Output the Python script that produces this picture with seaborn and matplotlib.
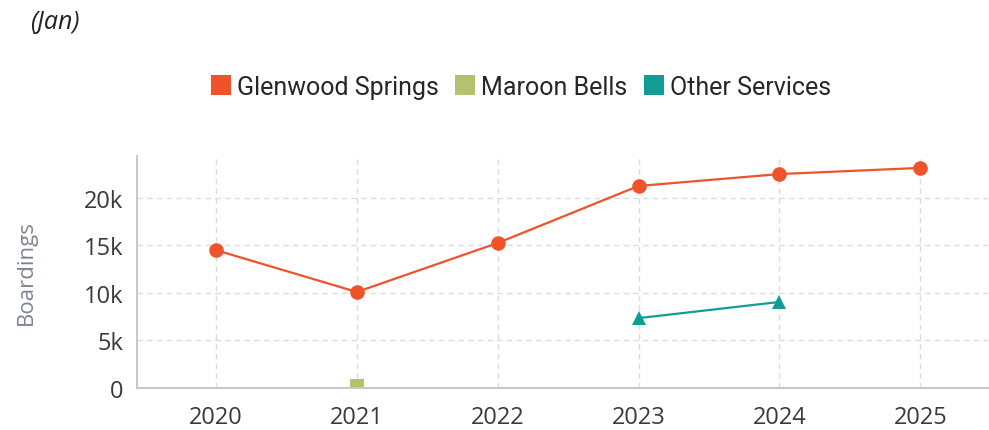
import matplotlib
matplotlib.use("Agg")
import matplotlib.pyplot as plt
import seaborn as sns
import pandas as pd
from matplotlib.ticker import FuncFormatter, FixedLocator
from matplotlib.lines import Line2D

years = [2020, 2021, 2022, 2023, 2024, 2025]
glenwood = [14500, 10100, 15250, 21250, 22500, 23150]
maroon_years = [2021]
maroon = [200]
other_years = [2023, 2024]
other = [7350, 9050]
y_ticks = [0, 5000, 10000, 15000, 20000]
series_names = ["Glenwood Springs", "Maroon Bells", "Other Services"]
colors = ["#F0522A", "#B3C26C", "#119C97"]

df = pd.concat([
    pd.DataFrame({"year": years, "value": glenwood, "series": series_names[0]}),
    pd.DataFrame({"year": maroon_years, "value": maroon, "series": series_names[1]}),
    pd.DataFrame({"year": other_years, "value": other, "series": series_names[2]}),
])

sns.set_theme(style="white")
plt.rcParams["font.family"] = ["Open Sans", "DejaVu Sans"]

fig = plt.figure(figsize=(9.89, 4.31), dpi=100)
ax = fig.add_axes([137/989, 1-389/431, (988-137)/989, (389-157)/431])

markers = {series_names[0]: "o", series_names[1]: "s", series_names[2]: "^"}
sizes = {series_names[0]: 10.5, series_names[1]: 10, series_names[2]: 10.5}
for name, col in zip(series_names, colors):
    sub = df[df.series == name]
    sns.lineplot(data=sub, x="year", y="value", ax=ax, color=col, marker=markers[name],
                 markersize=sizes[name], markeredgewidth=0, linewidth=1.6, legend=False, zorder=3)

ax.set_xlim(2019.44, 2025.48)
ax.set_ylim(0, 24400)
ax.xaxis.set_major_locator(FixedLocator(years))
ax.yaxis.set_major_locator(FixedLocator(y_ticks))
ax.yaxis.set_major_formatter(FuncFormatter(lambda v, p: "0" if v == 0 else f"{int(v/1000)}k"))
ax.set_xticklabels([str(y) for y in years])
ax.grid(True, axis="both", color="#dcdcdc", linestyle=(0, (4, 3)), linewidth=1)
for s in ["top", "right"]:
    ax.spines[s].set_visible(False)
for s in ["left", "bottom"]:
    ax.spines[s].set_color("#c8c8cc")
    ax.spines[s].set_linewidth(1.5)
    ax.spines[s].set_zorder(4)
ax.tick_params(axis="both", length=5, width=1, color="#c8c8cc", labelsize=17, labelcolor="#3a3a3a", pad=5)
ax.tick_params(axis="x", pad=7)
ax.set_xlabel("")
ax.set_ylabel("Boardings", fontsize=16, color="#7d8591", labelpad=34)

fig.text(30/989, 1-23/431, "(Jan)", fontsize=18, style="italic", color="#222222", va="center", ha="left")

handles = [Line2D([0], [0], marker="s", color="none", markerfacecolor=c, markeredgewidth=0, markersize=14) for c in colors]
fig.legend(handles, series_names, loc="center", bbox_to_anchor=(519/989, 1-88/431), ncol=3, frameon=False,
           prop={"family": ["Roboto", "DejaVu Sans"], "size": 18},
           handletextpad=0.1, columnspacing=0.5, handlelength=1.1)

fig.savefig("out.png", dpi=100)
